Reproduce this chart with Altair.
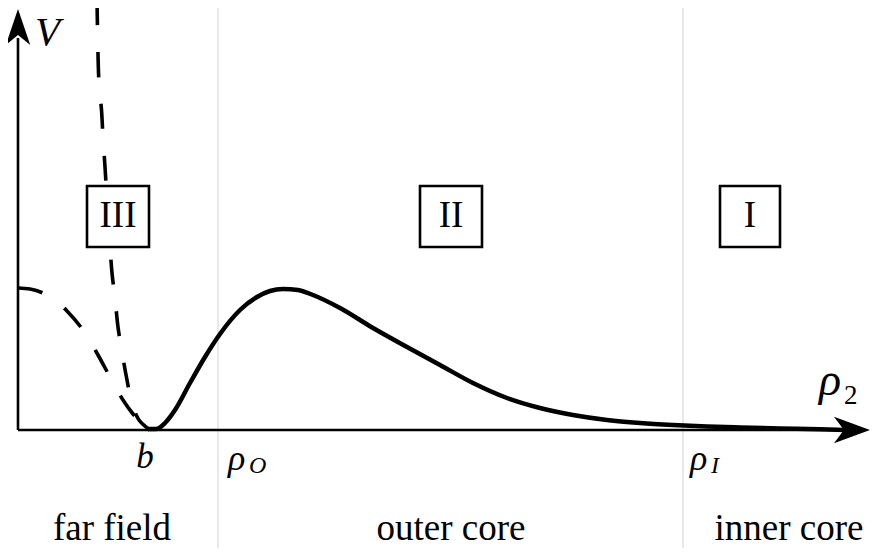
import altair as alt
import pandas as pd

# ---- data (schematic, in the picture's own coordinate frame: x to the right, y downward) ----
solid_x = [148, 156, 165, 175, 190, 205, 220, 240, 257, 270, 283, 298, 313, 340, 373, 407, 440, 473, 507, 540, 573, 607, 640, 673, 707, 740, 780, 820, 845]
solid_y = [429, 429, 423, 410, 383, 357, 334, 310, 297, 291, 289, 290, 295, 308, 328, 347, 365, 383, 398, 408, 415, 420, 423, 425, 426.5, 427.5, 428.5, 429.3, 430]

dashA_x = [18, 30, 43, 55, 67, 83, 98, 110, 123, 133, 142, 150]
dashA_y = [288, 289, 293, 300, 311, 330, 355, 377, 400, 414, 424, 430]

dashB_x = [97, 97.5, 99, 101.5, 103, 105, 106, 109, 112, 115, 118, 122, 127, 132, 139, 150]
dashB_y = [0, 28, 83, 110, 137, 167, 183, 230, 273, 298, 327, 352, 380, 403, 420, 430]

region_lines = [218, 683]

box_labels = ["III", "II", "I"]
box_x1 = [87, 420, 720]
box_x2 = [149, 482, 780]
box_y1 = [186, 186, 186]
box_y2 = [247, 247, 247]

zone_labels = ["far field", "outer core", "inner core"]
zone_x = [112, 451, 789]

W, H = 863, 540
X0, Y0 = 8, 8
xs = alt.Scale(domain=[X0, X0 + W], nice=False, zero=False)
ys = alt.Scale(domain=[Y0, Y0 + H], nice=False, zero=False, reverse=True)

def X(f="x"):
    return alt.X(f"{f}:Q", scale=xs, axis=None)

def Y(f="y"):
    return alt.Y(f"{f}:Q", scale=ys, axis=None)

layers = []

# grey region separators
vl = pd.DataFrame({"x": region_lines, "y": [0] * 2, "y2": [556] * 2})
layers.append(alt.Chart(vl).mark_rule(color="#d9d9d9", strokeWidth=1.2).encode(
    x=X(), y=Y(), y2="y2:Q"))

# axes
ax = pd.DataFrame({"x": [18, 18], "y": [430, 430], "x2": [18, 845], "y2": [38, 430]})
layers.append(alt.Chart(ax).mark_rule(color="black", strokeWidth=2.6).encode(
    x=X(), y=Y(), x2="x2:Q", y2="y2:Q"))

# arrow heads
arr_r = pd.DataFrame({"x": [852], "y": [430]})
layers.append(alt.Chart(arr_r).mark_point(
    shape="M1,0L-1,-0.74L-0.45,0L-1,0.74Z", size=1296, filled=True, fill="black",
    opacity=1, strokeWidth=0).encode(x=X(), y=Y()))
arr_u = pd.DataFrame({"x": [18], "y": [27]})
layers.append(alt.Chart(arr_u).mark_point(
    shape="M0,-1L-0.68,1L0,0.45L0.68,1Z", size=1296, filled=True, fill="black",
    opacity=1, strokeWidth=0).encode(x=X(), y=Y()))

# dashed curves
dA = pd.DataFrame({"x": dashA_x, "y": dashA_y, "i": range(len(dashA_x))})
dB = pd.DataFrame({"x": dashB_x, "y": dashB_y, "i": range(len(dashB_x))})
for d in (dA, dB):
    layers.append(alt.Chart(d).mark_line(
        color="black", strokeWidth=3.6, strokeDash=[25, 27], interpolate="catmull-rom").encode(
        x=X(), y=Y(), order="i:Q"))

# solid curve
sd = pd.DataFrame({"x": solid_x, "y": solid_y, "i": range(len(solid_x))})
layers.append(alt.Chart(sd).mark_line(
    color="black", strokeWidth=4.5, interpolate="monotone").encode(
    x=X(), y=Y(), order="i:Q"))

# boxes
bx = pd.DataFrame({"x": box_x1, "x2": box_x2, "y": box_y1, "y2": box_y2, "t": box_labels})
layers.append(alt.Chart(bx).mark_rect(fill="white", stroke="black", strokeWidth=2.6).encode(
    x=X(), x2="x2:Q", y=Y(), y2="y2:Q"))
bt = pd.DataFrame({"x": [(a + b) / 2 for a, b in zip(box_x1, box_x2)], "y": [227] * 3, "t": box_labels})
layers.append(alt.Chart(bt).mark_text(font="Liberation Serif", fontSize=37, align="center",
                                      baseline="alphabetic", color="black").encode(
    x=X(), y=Y(), text="t:N"))

# zone labels
zt = pd.DataFrame({"x": zone_x, "y": [540] * 3, "t": zone_labels})
layers.append(alt.Chart(zt).mark_text(font="Liberation Serif", fontSize=37, align="center",
                                      baseline="alphabetic", color="black").encode(
    x=X(), y=Y(), text="t:N"))

# math labels
def label(t, x, y, size, style="italic", align="left"):
    d = pd.DataFrame({"x": [x], "y": [y], "t": [t]})
    return alt.Chart(d).mark_text(font="Liberation Serif", fontSize=size, fontStyle=style,
                                  align=align, baseline="alphabetic", color="black").encode(
        x=X(), y=Y(), text="t:N")

layers.append(label("V", 35, 45, 41))
layers.append(label("b", 145, 468, 35, align="center"))
layers.append(label("ρ", 228, 470, 36))
layers.append(label("O", 249, 473, 24))
layers.append(label("ρ", 690, 470, 36))
layers.append(label("I", 711, 473, 24))
layers.append(label("ρ", 819, 395, 46))
layers.append(label("2", 844, 404, 27, style="normal"))

chart = alt.layer(*layers).properties(
    width=W, height=H, padding=0, autosize=alt.AutoSizeParams(type="none"),
    background="white"
).configure_view(stroke=None)

chart.save("out.html", embed_options={"renderer": "svg", "actions": False})
